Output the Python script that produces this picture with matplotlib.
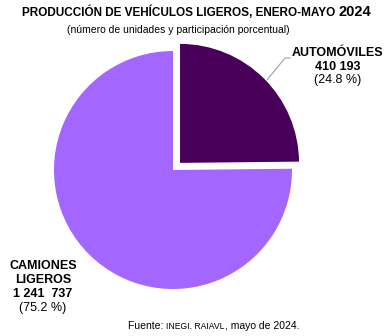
import matplotlib
matplotlib.use("Agg")
import matplotlib.pyplot as plt

plt.rcParams['font.family'] = ['Liberation Sans', 'DejaVu Sans']

# datos
categorias = ["AUTOMÓVILES", "CAMIONES\nLIGEROS"]
unidades = [410193, 1241737]
etiquetas_num = ["410 193", "1 241  737"]
porcentajes = ["(24.8 %)", "(75.2 %)"]
colores = ["#48005A", "#A366FF"]

W, H = 389, 336
fig = plt.figure(figsize=(W / 100, H / 100), dpi=100)
ax = fig.add_axes([0, 0, 1, 1])

def Y(py):
    return H - py

# explode va en unidades de datos (pixeles aqui)
ax.pie(unidades, colors=colores, startangle=90, counterclock=False,
       center=(173, Y(170)), radius=119, explode=[10, 0],
       wedgeprops=dict(linewidth=0))

# pie() cambia los limites, se fijan despues
ax.set_xlim(0, W)
ax.set_ylim(0, H)
ax.set_aspect('equal')
ax.axis('off')

# titulo
t = ax.text(22, Y(12), "PRODUCCIÓN DE VEHÍCULOS LIGEROS, ENERO-MAYO ",
            fontsize=8.5, fontweight='bold', ha='left', va='center')
ax.annotate("2024", xy=(1, 0), xycoords=t, xytext=(0, -0.5),
            textcoords='offset points', fontsize=10.5, fontweight='bold',
            ha='left', va='bottom')
ax.text(178, Y(30), "(número de unidades y participación porcentual)",
        fontsize=7.5, ha='center', va='center')

# etiquetas
ax.plot([267, 285, 290], [Y(80), Y(58), Y(58)], color='#A0A0A0', lw=0.8)
ax.text(338, Y(53), categorias[0], fontsize=9, fontweight='bold', ha='center', va='center')
ax.text(338, Y(67), etiquetas_num[0], fontsize=9, fontweight='bold', ha='center', va='center')
ax.text(338, Y(80), porcentajes[0], fontsize=9, ha='center', va='center')

lineas = categorias[1].split("\n") + [etiquetas_num[1]]
for i, s in enumerate(lineas):
    ax.text(43, Y(266 + 14 * i), s, fontsize=9, fontweight='bold',
            ha='center', va='center')
ax.text(43, Y(308), porcentajes[1], fontsize=9, ha='center', va='center')

# fuente
f1 = ax.text(128, Y(326), "Fuente: ", fontsize=7.5, ha='left', va='center')
f2 = ax.annotate("INEGI. RAIAVL", xy=(1, 0), xycoords=f1, fontsize=6.2,
                 ha='left', va='bottom')
ax.annotate(", mayo de 2024.", xy=(1, 0), xycoords=f2, fontsize=7.5,
            ha='left', va='bottom')

fig.savefig("out.png", dpi=100)
